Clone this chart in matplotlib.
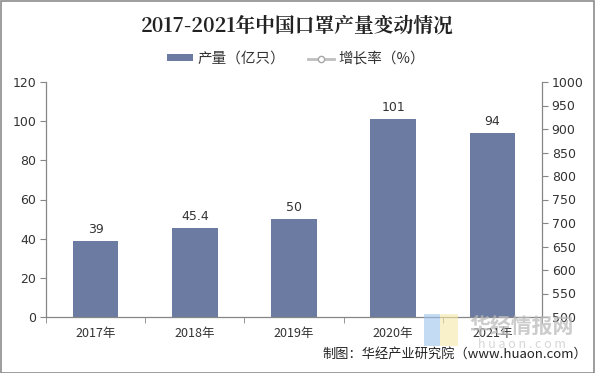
import matplotlib
matplotlib.use("Agg")
import matplotlib.pyplot as plt
from matplotlib.lines import Line2D
from matplotlib.patches import Rectangle, Patch

plt.rcParams['font.family'] = ['Noto Sans CJK SC', 'DejaVu Sans']

years = ["2017年", "2018年", "2019年", "2020年", "2021年"]
output = [39, 45.4, 50, 101, 94]
output_labels = ["39", "45.4", "50", "101", "94"]
left_ticks = [0, 20, 40, 60, 80, 100, 120]
right_ticks = [500, 550, 600, 650, 700, 750, 800, 850, 900, 950, 1000]

bar_color = "#6B7BA1"
axis_color = "#868686"
text_color = "#333333"

fig = plt.figure(figsize=(5.95, 3.73), dpi=100)
ax = fig.add_axes([46/595, 1-317/373, (542-46)/595, (317-82)/373])
ax2 = ax.twinx()

x = list(range(len(years)))
bars = ax.bar(x, output, width=0.46, color=bar_color, zorder=2)
for xi, v, lab in zip(x, output, output_labels):
    ax.text(xi, v + 2.6, lab, ha="center", va="bottom", fontsize=9, color=text_color,
            family=['DejaVu Sans'])

ax.set_xlim(-0.5, len(years) - 0.5)
ax.set_ylim(0, 120)
ax.set_yticks(left_ticks)
ax.set_yticklabels([str(t) for t in left_ticks], family=['DejaVu Sans'])
ax.set_xticks(x)
ax.set_xticklabels(years)
ax.set_xticks([i + 0.5 for i in range(-1, len(years))], minor=True)
ax.tick_params(axis='x', which='major', length=0, pad=7, labelsize=9, colors=text_color)
ax.tick_params(axis='x', which='minor', length=4, color=axis_color, direction='out')
ax.tick_params(axis='y', length=4, color=axis_color, labelsize=9, labelcolor=text_color, pad=3)

ax2.set_ylim(500, 1000)
ax2.set_yticks(right_ticks)
ax2.set_yticklabels([str(t) for t in right_ticks], family=['DejaVu Sans'])
ax2.tick_params(axis='y', length=4, color=axis_color, labelsize=9, labelcolor=text_color, pad=3)

for a in (ax, ax2):
    a.spines['top'].set_visible(False)
    for s in ('left', 'right', 'bottom'):
        a.spines[s].set_color(axis_color)
        a.spines[s].set_linewidth(0.9)
ax.spines['right'].set_visible(False)
ax2.spines['left'].set_visible(False)
ax2.spines['bottom'].set_visible(False)

fig.text(297/595, 1-26/373, "2017-2021年中国口罩产量变动情况", ha="center", va="center",
         fontsize=14.2, fontweight="bold", color="#222222",
         family=['Noto Serif CJK SC', 'Noto Sans CJK SC', 'DejaVu Sans'])

handles = [Patch(facecolor=bar_color, edgecolor='none'),
           Line2D([0], [0], color="#BFBFBF", lw=2, marker='o', markersize=4.5,
                  markerfacecolor='white', markeredgecolor='#A6A6A6')]
leg = fig.legend(handles, ["产量（亿只）", "增长率（%）"], loc="center",
                 bbox_to_anchor=(296/595, 1-59/373), ncol=2, frameon=False,
                 fontsize=10.5, handlelength=1.8, handleheight=0.4, columnspacing=1.6,
                 handletextpad=0.3)
for t in leg.get_texts():
    t.set_color(text_color)

# watermark
fig.patches.append(Rectangle((424/595, 1-346/373), 16/595, 32/373, transform=fig.transFigure,
                             facecolor="#9EC3EE", edgecolor='none', alpha=0.6, zorder=5))
fig.patches.append(Rectangle((440/595, 1-346/373), 18/595, 32/373, transform=fig.transFigure,
                             facecolor="#F6E9A6", edgecolor='none', alpha=0.6, zorder=5))
fig.text(522/595, 1-326/373, "华经情报网", ha="center", va="center", fontsize=15,
         fontweight="bold", color="#BBBBBB", alpha=0.75, zorder=6)
fig.text(522/595, 1-344/373, "h u a o n . c o m", ha="center", va="center", fontsize=9,
         color="#CCCCCC", alpha=0.8, zorder=6)

fig.text(587/595, 1-354/373, "制图：华经产业研究院（www.huaon.com）", ha="right", va="center",
         fontsize=9.5, color="#222222", zorder=7)

fig.patches.append(Rectangle((0.5/595, 0.5/373), 593.5/595, 371.5/373, transform=fig.transFigure,
                             facecolor='none', edgecolor="#8C8C8C", linewidth=1.2, zorder=10))

fig.savefig("out.png", dpi=100)
